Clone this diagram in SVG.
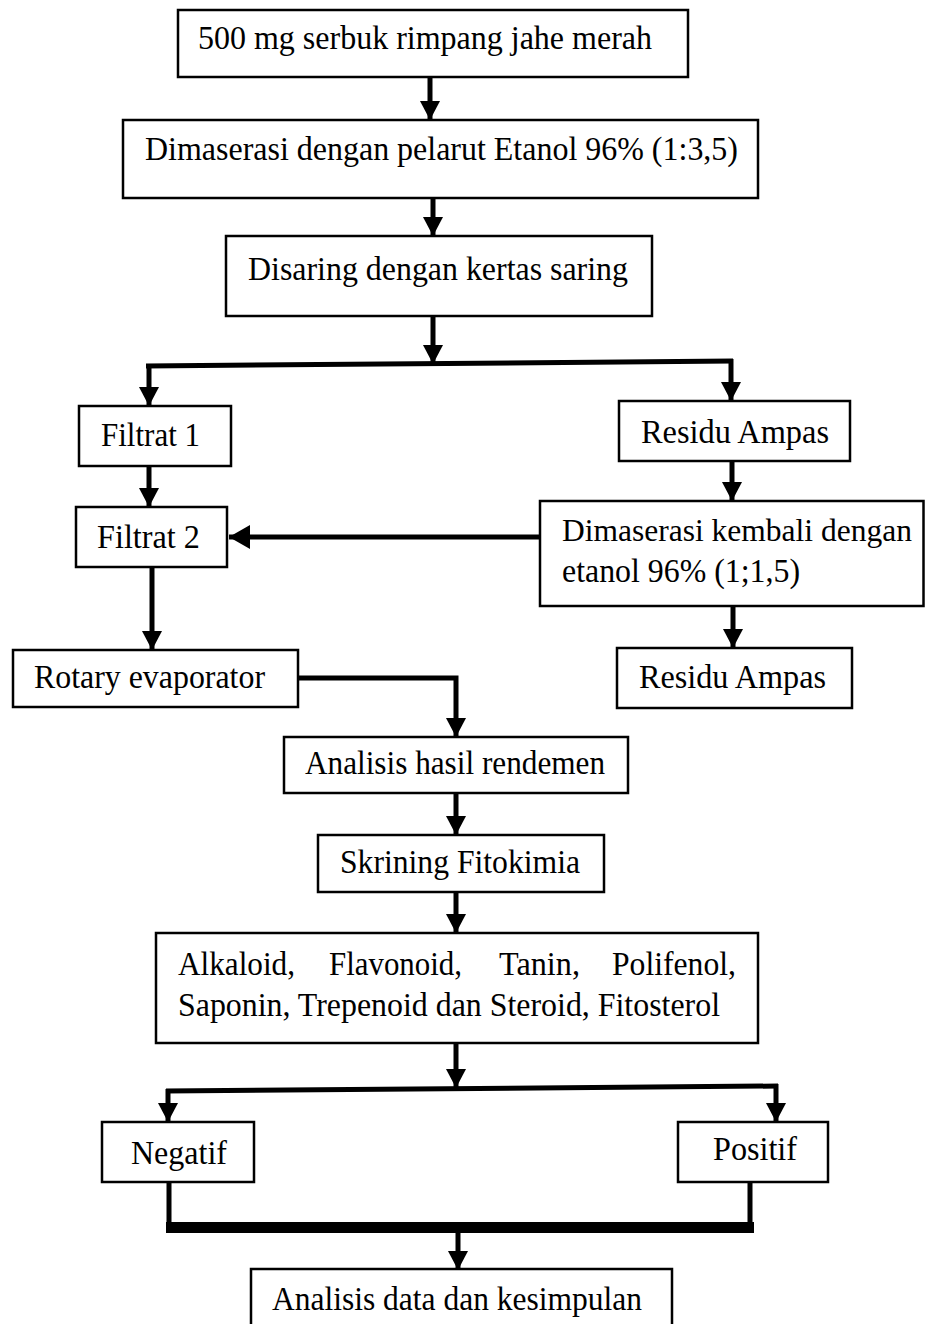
<svg xmlns="http://www.w3.org/2000/svg" width="925" height="1324" viewBox="0 0 925 1324">
  <style>
    .box { fill: #ffffff; stroke: #000000; stroke-width: 2.5; }
    .lbl { font-family: "Liberation Serif", "Times New Roman", serif; font-size: 33px; fill: #000000; }
    .wire { fill: none; stroke: #000000; stroke-width: 5; }
  </style>
  <defs>
    <marker id="head" markerUnits="userSpaceOnUse" markerWidth="20" markerHeight="20" refX="19" refY="10" orient="auto">
      <path d="M0,0 L19,10 L0,20 Z" fill="#000000"/>
    </marker>
    <marker id="head-wide" markerUnits="userSpaceOnUse" markerWidth="22" markerHeight="24" refX="21" refY="12" orient="auto">
      <path d="M0,0 L21,12 L0,24 Z" fill="#000000"/>
    </marker>
  </defs>
  <rect width="925" height="1324" fill="#ffffff"/>

  <!-- connectors -->
  <g id="connectors">
    <path class="wire" d="M430,77 V120" marker-end="url(#head)"/>
    <path class="wire" d="M433,198 V236" marker-end="url(#head)"/>
    <path class="wire" d="M433,316 V364" marker-end="url(#head)"/>
    <path class="wire" d="M146,366 L733,361"/>
    <path class="wire" d="M149,364 V406" marker-end="url(#head)"/>
    <path class="wire" d="M731,359 V401" marker-end="url(#head)"/>
    <path class="wire" d="M149,466 V507" marker-end="url(#head)"/>
    <path class="wire" d="M732,461 V501" marker-end="url(#head)"/>
    <path class="wire" d="M540,537 H229" stroke-width="8" marker-end="url(#head-wide)"/>
    <path class="wire" d="M152,567 V650" marker-end="url(#head)"/>
    <path class="wire" d="M733,606 V648" marker-end="url(#head)"/>
    <path class="wire" d="M298,678 H456 V737" marker-end="url(#head)"/>
    <path class="wire" d="M456,793 V835" marker-end="url(#head)"/>
    <path class="wire" d="M456,892 V933" marker-end="url(#head)"/>
    <path class="wire" d="M456,1043 V1088" marker-end="url(#head)"/>
    <path class="wire" d="M166,1091 L778,1086"/>
    <path class="wire" d="M168,1089 V1122" marker-end="url(#head)"/>
    <path class="wire" d="M776,1084 V1122" marker-end="url(#head)"/>
    <path class="wire" d="M169,1182 V1228 H750 V1182"/>
    <path d="M166,1222 H754 V1233 H166 Z" fill="#000000"/>
    <path class="wire" d="M458,1233 V1270" marker-end="url(#head)"/>
  </g>

  <g id="n-serbuk">
    <rect class="box" x="178" y="10" width="510" height="67"/>
    <text class="lbl" x="198" y="49" textLength="454" lengthAdjust="spacingAndGlyphs">500 mg serbuk rimpang jahe merah</text>
  </g>
  <g id="n-maserasi">
    <rect class="box" x="123" y="120" width="635" height="78"/>
    <text class="lbl" x="145" y="160" textLength="593" lengthAdjust="spacingAndGlyphs">Dimaserasi dengan pelarut Etanol 96%  (1:3,5)</text>
  </g>
  <g id="n-saring">
    <rect class="box" x="226" y="236" width="426" height="80"/>
    <text class="lbl" x="248" y="280" textLength="380" lengthAdjust="spacingAndGlyphs">Disaring dengan kertas saring</text>
  </g>
  <g id="n-filtrat1">
    <rect class="box" x="79" y="406" width="152" height="60"/>
    <text class="lbl" x="101" y="446" textLength="99" lengthAdjust="spacingAndGlyphs">Filtrat 1</text>
  </g>
  <g id="n-residu1">
    <rect class="box" x="619" y="401" width="231" height="60"/>
    <text class="lbl" x="641" y="443" textLength="188" lengthAdjust="spacingAndGlyphs">Residu Ampas</text>
  </g>
  <g id="n-filtrat2">
    <rect class="box" x="76" y="507" width="151" height="60"/>
    <text class="lbl" x="97" y="548" textLength="103" lengthAdjust="spacingAndGlyphs">Filtrat 2</text>
  </g>
  <g id="n-maserasi-ulang">
    <rect class="box" x="540" y="501" width="383.5" height="105"/>
    <text class="lbl" x="562" y="541" style="font-size:31.5px">Dimaserasi kembali dengan</text>
    <text class="lbl" x="562" y="582" textLength="238" lengthAdjust="spacingAndGlyphs">etanol 96%  (1;1,5)</text>
  </g>
  <g id="n-rotary">
    <rect class="box" x="13" y="650" width="285" height="57"/>
    <text class="lbl" x="34" y="688" textLength="231" lengthAdjust="spacingAndGlyphs">Rotary evaporator</text>
  </g>
  <g id="n-residu2">
    <rect class="box" x="617" y="648" width="235" height="60"/>
    <text class="lbl" x="639" y="688" textLength="187" lengthAdjust="spacingAndGlyphs">Residu Ampas</text>
  </g>
  <g id="n-rendemen">
    <rect class="box" x="284" y="737" width="344" height="56"/>
    <text class="lbl" x="305" y="774" textLength="300" lengthAdjust="spacingAndGlyphs">Analisis hasil rendemen</text>
  </g>
  <g id="n-skrining">
    <rect class="box" x="318" y="835" width="286" height="57"/>
    <text class="lbl" x="340" y="873" textLength="240" lengthAdjust="spacingAndGlyphs">Skrining Fitokimia</text>
  </g>
  <g id="n-senyawa">
    <rect class="box" x="156" y="933" width="602" height="110"/>
    <!-- first line is justified: one text per word -->
    <text class="lbl" x="178" y="975" textLength="117" lengthAdjust="spacingAndGlyphs">Alkaloid,</text>
    <text class="lbl" x="329" y="975" textLength="133" lengthAdjust="spacingAndGlyphs">Flavonoid,</text>
    <text class="lbl" x="499" y="975" textLength="81" lengthAdjust="spacingAndGlyphs">Tanin,</text>
    <text class="lbl" x="612" y="975" textLength="124" lengthAdjust="spacingAndGlyphs">Polifenol,</text>
    <text class="lbl" x="178" y="1016" textLength="542" lengthAdjust="spacingAndGlyphs">Saponin, Trepenoid dan Steroid, Fitosterol</text>
  </g>
  <g id="n-negatif">
    <rect class="box" x="102" y="1122" width="152" height="60"/>
    <text class="lbl" x="131" y="1164" textLength="96" lengthAdjust="spacingAndGlyphs">Negatif</text>
  </g>
  <g id="n-positif">
    <rect class="box" x="678" y="1122" width="150" height="60"/>
    <text class="lbl" x="713" y="1160" textLength="84" lengthAdjust="spacingAndGlyphs">Positif</text>
  </g>
  <g id="n-kesimpulan">
    <path class="box" d="M251,1330 V1269 H672 V1330"/>
    <text class="lbl" x="272" y="1310" textLength="370" lengthAdjust="spacingAndGlyphs">Analisis data dan kesimpulan</text>
  </g>
</svg>
